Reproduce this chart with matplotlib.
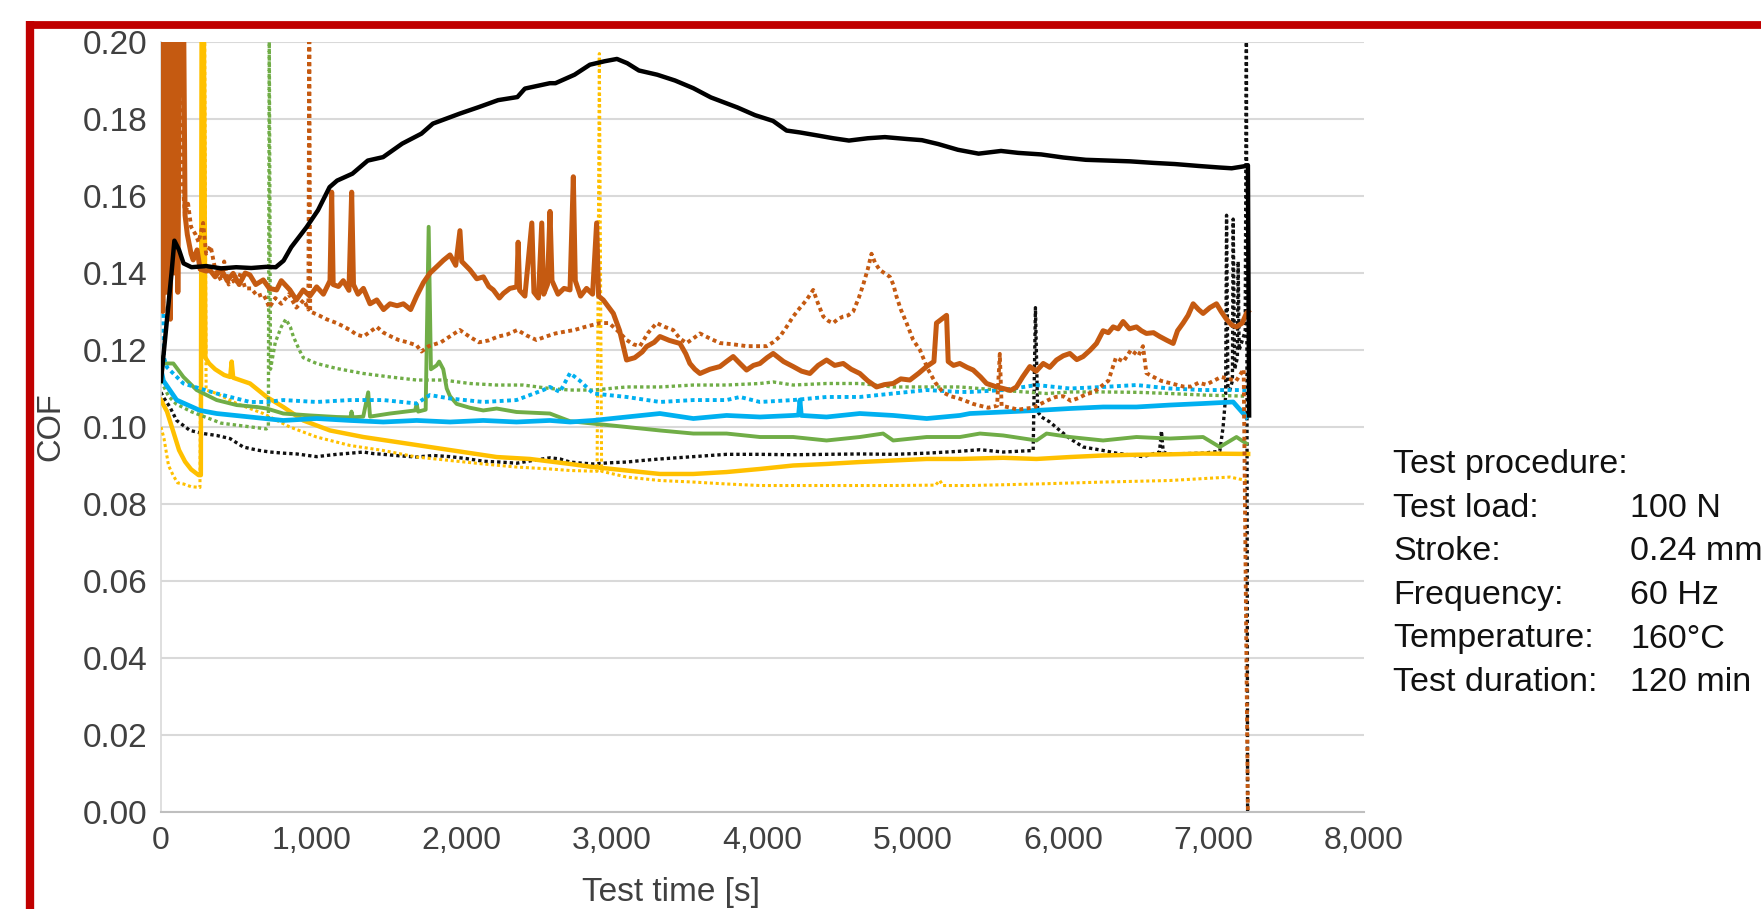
import numpy as np
import matplotlib
matplotlib.use("Agg")
import matplotlib.pyplot as plt
from matplotlib.lines import Line2D
from matplotlib.ticker import FuncFormatter

plt.rcParams['font.family'] = ['Liberation Sans', 'DejaVu Sans']

# (test time [s], COF)
black_solid = [(0, 0.112), (40, 0.128), (70, 0.140), (89, 0.1484), (120, 0.146), (150, 0.1425),
               (203, 0.1415), (300, 0.1418), (400, 0.1412), (500, 0.1415), (600, 0.1413), (700, 0.1416),
               (763, 0.1415), (815, 0.1432), (866, 0.1467), (968, 0.1519), (1044, 0.1563), (1121, 0.1623),
               (1171, 0.164), (1273, 0.1658), (1375, 0.1692), (1477, 0.1701), (1604, 0.1736), (1732, 0.1762),
               (1808, 0.1788), (1987, 0.1814), (2114, 0.1831), (2242, 0.1849), (2370, 0.1857), (2420, 0.1879),
               (2586, 0.1893), (2623, 0.1893), (2750, 0.1915), (2852, 0.1941), (2950, 0.195), (3032, 0.1956),
               (3100, 0.1945), (3178, 0.1926), (3300, 0.1915), (3418, 0.19), (3540, 0.188), (3657, 0.1856),
               (3833, 0.183), (3950, 0.181), (4070, 0.1795), (4160, 0.177), (4250, 0.1765), (4369, 0.1757),
               (4470, 0.175), (4575, 0.1744), (4700, 0.175), (4814, 0.1753), (4961, 0.1748), (5060, 0.1745),
               (5168, 0.1735), (5300, 0.172), (5437, 0.171), (5586, 0.1717), (5700, 0.1712), (5853, 0.1708),
               (6000, 0.17), (6150, 0.1694), (6300, 0.1692), (6445, 0.169), (6600, 0.1686), (6742, 0.1683),
               (6900, 0.1678), (7039, 0.1674), (7120, 0.1672), (7200, 0.1677), (7228, 0.168), (7236, 0.103)]

black_dotted = [(0, 0.109), (15, 0.1078), (59, 0.1052), (104, 0.1017), (193, 0.0991), (281, 0.0983),
                (370, 0.0978), (459, 0.097), (547, 0.0948), (640, 0.094), (725, 0.0935), (815, 0.0932),
                (902, 0.093), (1035, 0.0923), (1100, 0.0926), (1168, 0.0929), (1260, 0.0932), (1346, 0.0935),
                (1410, 0.0931), (1479, 0.0929), (1590, 0.0925), (1700, 0.0922), (1810, 0.0926), (1922, 0.0923),
                (2030, 0.0918), (2144, 0.0911), (2250, 0.0909), (2366, 0.0906), (2470, 0.0913), (2587, 0.092),
                (2653, 0.0917), (2720, 0.0909), (2800, 0.0906), (2874, 0.0904), (2980, 0.0907), (3096, 0.0909),
                (3200, 0.0913), (3318, 0.0917), (3430, 0.092), (3540, 0.0923), (3650, 0.0926), (3761, 0.0929),
                (3983, 0.0929), (4200, 0.0928), (4427, 0.0929), (4650, 0.093), (4870, 0.0929), (5092, 0.0932),
                (5313, 0.0937), (5446, 0.0941), (5601, 0.0935), (5800, 0.0939), (5815, 0.131), (5830, 0.104),
                (5855, 0.1026), (5911, 0.1013), (5977, 0.0991), (6044, 0.097), (6133, 0.0948), (6266, 0.0939),
                (6354, 0.0932), (6531, 0.0923), (6640, 0.0935), (6653, 0.099), (6665, 0.0935), (6708, 0.093),
                (6930, 0.0932), (7041, 0.0937), (7063, 0.100), (7080, 0.108), (7086, 0.155), (7095, 0.11),
                (7108, 0.1096), (7125, 0.112), (7130, 0.154), (7140, 0.115), (7158, 0.118), (7163, 0.143),
                (7170, 0.12), (7195, 0.123), (7210, 0.125), (7218, 0.205), (7226, 0.0)]

orange_solid = [(0, 0.21), (12, 0.13), (25, 0.21), (38, 0.135), (50, 0.21), (62, 0.128), (75, 0.21),
                (88, 0.14), (100, 0.21), (112, 0.135), (125, 0.21), (140, 0.21), (150, 0.21), (160, 0.155),
                (175, 0.15), (200, 0.145),
                (214, 0.1434), (240, 0.146), (260, 0.141), (300, 0.1405), (325, 0.1408), (360, 0.139),
                (400, 0.141), (440, 0.138), (480, 0.1399), (520, 0.137), (560, 0.14), (591, 0.1395),
                (630, 0.137), (680, 0.1382), (720, 0.136), (769, 0.1356), (800, 0.138), (857, 0.1356),
                (900, 0.133), (946, 0.1356), (990, 0.134), (1035, 0.1364), (1080, 0.1345), (1124, 0.138),
                (1135, 0.161), (1145, 0.137), (1180, 0.1365), (1212, 0.138), (1250, 0.1355), (1268, 0.161),
                (1280, 0.137), (1310, 0.1345), (1346, 0.136), (1390, 0.132), (1435, 0.133), (1480, 0.1305),
                (1523, 0.132), (1570, 0.1315), (1612, 0.132), (1660, 0.1305), (1700, 0.134), (1745, 0.1375),
                (1789, 0.140), (1830, 0.1415), (1878, 0.1433), (1922, 0.1447), (1960, 0.142), (1988, 0.151),
                (2000, 0.143), (2055, 0.1408), (2100, 0.1385), (2144, 0.139), (2180, 0.1365), (2210, 0.1356),
                (2250, 0.1335), (2277, 0.1347), (2320, 0.136), (2366, 0.1364), (2375, 0.148), (2385, 0.1355),
                (2420, 0.134), (2466, 0.153), (2480, 0.135), (2510, 0.1335), (2532, 0.153), (2545, 0.1345),
                (2570, 0.137), (2587, 0.156), (2600, 0.138), (2640, 0.1345), (2680, 0.136), (2720, 0.1356),
                (2742, 0.165), (2755, 0.138), (2790, 0.134), (2830, 0.136), (2870, 0.1345), (2897, 0.153),
                (2910, 0.134), (2941, 0.133), (2970, 0.1315), (3008, 0.1295), (3050, 0.125), (3096, 0.1174),
                (3150, 0.118), (3200, 0.1195), (3229, 0.1209), (3280, 0.122), (3318, 0.1235), (3380, 0.1225),
                (3451, 0.1217), (3490, 0.119), (3517, 0.1165), (3550, 0.115), (3584, 0.1139), (3650, 0.115),
                (3717, 0.1157), (3760, 0.117), (3805, 0.1183), (3850, 0.1165), (3894, 0.1148), (3940, 0.116),
                (3983, 0.1165), (4030, 0.118), (4071, 0.1191), (4140, 0.117), (4204, 0.1157), (4260, 0.1145),
                (4315, 0.1139), (4370, 0.116), (4426, 0.1174), (4480, 0.116), (4537, 0.1165), (4590, 0.115),
                (4647, 0.1139), (4700, 0.112), (4758, 0.1104), (4810, 0.111), (4869, 0.1113), (4920, 0.1125),
                (4980, 0.1122), (5040, 0.114), (5091, 0.1157), (5140, 0.117), (5157, 0.127), (5190, 0.128),
                (5224, 0.129), (5235, 0.117), (5270, 0.116), (5312, 0.1165), (5360, 0.1155), (5401, 0.1148),
                (5450, 0.113), (5490, 0.1113), (5550, 0.1105), (5601, 0.11), (5650, 0.1095), (5689, 0.1104),
                (5730, 0.113), (5778, 0.1157), (5820, 0.1145), (5867, 0.1165), (5910, 0.1155), (5955, 0.1174),
                (6000, 0.1185), (6044, 0.1191), (6090, 0.1175), (6132, 0.1183), (6180, 0.12), (6221, 0.1217),
                (6265, 0.125), (6300, 0.1245), (6332, 0.126), (6365, 0.1255), (6398, 0.1274), (6440, 0.1255),
                (6487, 0.126), (6520, 0.125), (6553, 0.1243), (6600, 0.1245), (6642, 0.1235), (6690, 0.1225),
                (6731, 0.1217), (6760, 0.125), (6797, 0.127), (6830, 0.129), (6864, 0.132), (6900, 0.1305),
                (6930, 0.1295), (6975, 0.131), (7019, 0.132), (7050, 0.13), (7085, 0.128), (7120, 0.1265),
                (7152, 0.126), (7190, 0.127), (7218, 0.1295), (7230, 0.13)]

orange_dotted = [(0, 0.21), (20, 0.15), (40, 0.21), (60, 0.145), (80, 0.21), (100, 0.15), (125, 0.21),
                 (140, 0.165), (160, 0.155), (180, 0.158), (200, 0.152),
                 (230, 0.15), (250, 0.148), (280, 0.153), (300, 0.145), (330, 0.147), (360, 0.141), (400, 0.138),
                 (420, 0.143), (450, 0.137), (480, 0.138), (500, 0.137), (530, 0.14), (560, 0.136), (600, 0.136),
                 (640, 0.134), (680, 0.1345), (700, 0.133), (720, 0.131), (760, 0.1335), (800, 0.132),
                 (850, 0.1345), (900, 0.131), (950, 0.133), (980, 0.1305), (986, 0.2), (992, 0.13), (1050, 0.129),
                 (1100, 0.128), (1168, 0.127), (1210, 0.1262), (1257, 0.1252), (1300, 0.124), (1346, 0.1235),
                 (1400, 0.125), (1435, 0.126), (1480, 0.1245), (1530, 0.1235), (1580, 0.1226), (1640, 0.122),
                 (1700, 0.1212), (1732, 0.1196), (1780, 0.121), (1861, 0.122), (1920, 0.1235), (1987, 0.1252),
                 (2050, 0.1235), (2114, 0.122), (2180, 0.1225), (2242, 0.1235), (2300, 0.124), (2370, 0.1252),
                 (2430, 0.1238), (2497, 0.1226), (2560, 0.1235), (2623, 0.1243), (2690, 0.1248), (2750, 0.1252),
                 (2820, 0.126), (2920, 0.127), (2980, 0.127), (3050, 0.1245), (3096, 0.1226), (3140, 0.1215),
                 (3185, 0.121), (3240, 0.1245), (3296, 0.127), (3350, 0.126), (3406, 0.1252), (3450, 0.123),
                 (3495, 0.1218), (3540, 0.123), (3584, 0.1243), (3650, 0.123), (3717, 0.1218), (3800, 0.1215),
                 (3894, 0.121), (3960, 0.121), (4028, 0.121), (4070, 0.122), (4116, 0.1235), (4160, 0.126),
                 (4204, 0.1287), (4250, 0.131), (4293, 0.133), (4337, 0.1356), (4370, 0.132), (4404, 0.1287),
                 (4440, 0.1275), (4470, 0.127), (4500, 0.128), (4537, 0.1287), (4570, 0.129), (4603, 0.130),
                 (4640, 0.1335), (4670, 0.137), (4700, 0.141), (4725, 0.145), (4750, 0.1425), (4780, 0.1408),
                 (4810, 0.14), (4847, 0.139), (4870, 0.137), (4891, 0.1339), (4920, 0.1305), (4958, 0.127),
                 (5002, 0.1226), (5047, 0.12), (5100, 0.115), (5150, 0.1115), (5200, 0.109), (5250, 0.108),
                 (5300, 0.1075), (5350, 0.1068), (5400, 0.106), (5450, 0.1055), (5500, 0.105), (5560, 0.1055),
                 (5578, 0.119), (5590, 0.1055), (5650, 0.105), (5700, 0.1045), (5750, 0.1048), (5800, 0.105),
                 (5850, 0.106), (5900, 0.107), (5950, 0.1078), (6000, 0.108), (6050, 0.1068), (6100, 0.1075),
                 (6150, 0.1085), (6200, 0.109), (6250, 0.1105), (6300, 0.112), (6350, 0.118), (6400, 0.117),
                 (6450, 0.12), (6500, 0.1185), (6530, 0.121), (6553, 0.114), (6600, 0.113), (6650, 0.112),
                 (6700, 0.1115), (6750, 0.111), (6800, 0.1105), (6850, 0.1105), (6900, 0.1115), (6950, 0.111),
                 (7000, 0.112), (7050, 0.113), (7100, 0.1125), (7150, 0.112), (7200, 0.115), (7228, 0.0)]

green_solid = [(0, 0.118), (16, 0.1165), (82, 0.1165), (149, 0.113), (237, 0.1096), (370, 0.107),
               (503, 0.1057), (636, 0.1052), (703, 0.1048), (813, 0.1035), (991, 0.103), (1168, 0.1026),
               (1260, 0.1025), (1267, 0.104), (1275, 0.1025), (1345, 0.1027), (1378, 0.109), (1390, 0.1027),
               (1522, 0.1035), (1690, 0.1043), (1700, 0.106), (1710, 0.104), (1760, 0.1045), (1780, 0.152),
               (1795, 0.115), (1833, 0.116), (1850, 0.117), (1877, 0.115), (1900, 0.11), (1922, 0.108),
               (1966, 0.106), (2054, 0.105), (2143, 0.1043), (2232, 0.1048), (2364, 0.1039), (2586, 0.1035),
               (2720, 0.1015), (3096, 0.10), (3318, 0.0991), (3540, 0.0983), (3761, 0.0983), (3983, 0.0974),
               (4204, 0.0974), (4426, 0.0965), (4647, 0.0974), (4802, 0.0983), (4869, 0.0965), (5092, 0.0974),
               (5313, 0.0974), (5446, 0.0983), (5601, 0.0978), (5822, 0.0965), (5889, 0.0983), (6044, 0.0974),
               (6265, 0.0965), (6487, 0.0974), (6708, 0.097), (6930, 0.0974), (7041, 0.0948), (7152, 0.0974),
               (7218, 0.0957)]

green_dotted = [(0, 0.112), (50, 0.108), (100, 0.106), (200, 0.104), (300, 0.1025), (400, 0.101),
                (500, 0.1005), (600, 0.10), (700, 0.0995), (714, 0.1), (720, 0.2), (728, 0.115), (760, 0.122),
                (800, 0.126), (830, 0.128), (860, 0.126), (880, 0.1235), (920, 0.12), (946, 0.118),
                (1035, 0.1165), (1168, 0.1152), (1345, 0.1139), (1522, 0.113), (1700, 0.1122), (1877, 0.1122),
                (2054, 0.1113), (2232, 0.1109), (2409, 0.1109), (2586, 0.11), (2720, 0.1096), (2875, 0.1096),
                (3096, 0.1104), (3318, 0.1104), (3540, 0.1109), (3761, 0.1109), (3983, 0.1113), (4071, 0.1117),
                (4204, 0.1109), (4426, 0.1113), (4647, 0.1113), (4869, 0.1104), (5092, 0.1104), (5313, 0.1104),
                (5600, 0.1095), (5889, 0.1087), (6044, 0.1091), (6265, 0.1091), (6500, 0.109), (6708, 0.1087),
                (6930, 0.1083), (7218, 0.108)]

blue_solid = [(0, 0.115), (16, 0.112), (104, 0.107), (259, 0.1043), (370, 0.1035), (592, 0.1026),
              (813, 0.1017), (1035, 0.1022), (1257, 0.1017), (1478, 0.1013), (1700, 0.1017), (1922, 0.1013),
              (2143, 0.1017), (2364, 0.1013), (2586, 0.1017), (2720, 0.1013), (2875, 0.1017), (3096, 0.1026),
              (3318, 0.1035), (3540, 0.1022), (3761, 0.103), (3983, 0.1026), (4204, 0.103), (4240, 0.1031),
              (4249, 0.107), (4258, 0.103), (4426, 0.1026), (4647, 0.1035), (4869, 0.103), (5092, 0.1022),
              (5313, 0.103), (5379, 0.1035), (5601, 0.1039), (5822, 0.1043), (6044, 0.1048), (6265, 0.1052),
              (6487, 0.1052), (6708, 0.1057), (6930, 0.1061), (7130, 0.1065), (7218, 0.1026)]

blue_dotted = [(0, 0.185), (10, 0.15), (20, 0.118), (40, 0.1155), (149, 0.1113), (370, 0.1087),
               (592, 0.1065), (703, 0.1065), (813, 0.107), (1035, 0.1065), (1257, 0.107), (1478, 0.107),
               (1700, 0.1061), (1788, 0.1083), (1922, 0.1074), (2143, 0.1065), (2364, 0.107), (2542, 0.1096),
               (2586, 0.1104), (2653, 0.1091), (2720, 0.114), (2786, 0.112), (2875, 0.1087), (3096, 0.1078),
               (3318, 0.1065), (3540, 0.107), (3761, 0.107), (3850, 0.1078), (3983, 0.1065), (4204, 0.107),
               (4426, 0.1078), (4647, 0.1078), (4869, 0.1087), (5092, 0.1096), (5313, 0.1091), (5379, 0.1091),
               (5601, 0.1096), (5822, 0.1109), (6044, 0.11), (6265, 0.1104), (6487, 0.1109), (6708, 0.11),
               (6930, 0.1096), (7218, 0.1096)]

yellow_solid = [(0, 0.107), (40, 0.104), (80, 0.099), (120, 0.094), (160, 0.091), (200, 0.089), (250, 0.0875),
                (265, 0.0875), (270, 0.205), (285, 0.205), (295, 0.118), (320, 0.1165), (360, 0.115),
                (420, 0.1135), (460, 0.113), (470, 0.117), (480, 0.1128), (592, 0.1113), (703, 0.1078),
                (813, 0.1052), (946, 0.1017), (1124, 0.0991), (1345, 0.0974), (1567, 0.0961), (1788, 0.0948),
                (2010, 0.0935), (2232, 0.0922), (2453, 0.0917), (2720, 0.0904), (2875, 0.0896), (3096, 0.0887),
                (3318, 0.0878), (3540, 0.0878), (3761, 0.0883), (3983, 0.0891), (4204, 0.09), (4426, 0.0904),
                (4647, 0.0909), (4869, 0.0913), (5092, 0.0917), (5313, 0.0917), (5600, 0.092), (5822, 0.0917),
                (6044, 0.0922), (6265, 0.0926), (6487, 0.0928), (6708, 0.0929), (6930, 0.0931), (7230, 0.093)]

yellow_dotted = [(0, 0.10), (20, 0.097), (50, 0.09), (80, 0.0875), (110, 0.0855), (150, 0.0852), (200, 0.0845),
                 (259, 0.0843), (275, 0.205), (290, 0.205), (300, 0.1096), (370, 0.1087), (503, 0.1061),
                 (680, 0.1035), (857, 0.10), (1035, 0.0974), (1257, 0.0952), (1478, 0.0939), (1700, 0.0922),
                 (1922, 0.0913), (2143, 0.0904), (2364, 0.0896), (2586, 0.0891), (2720, 0.0887), (2900, 0.0885),
                 (2915, 0.197), (2930, 0.0885), (3096, 0.087), (3318, 0.0861), (3540, 0.0857), (3761, 0.0852),
                 (3983, 0.0848), (4426, 0.0848), (4869, 0.0848), (5150, 0.0849), (5179, 0.0861), (5200, 0.0848),
                 (5379, 0.0848), (5822, 0.0852), (6265, 0.0857), (6708, 0.0861), (7108, 0.087), (7218, 0.0861)]

x_ticks = [0, 1000, 2000, 3000, 4000, 5000, 6000, 7000, 8000]
y_ticks = [0.00, 0.02, 0.04, 0.06, 0.08, 0.10, 0.12, 0.14, 0.16, 0.18, 0.20]

info_labels = ["Test procedure:", "Test load:", "Stroke:", "Frequency:", "Temperature:", "Test duration:"]
info_values = ["", "100 N", "0.24 mm", "60 Hz", "160\u00b0C", "120 min"]

ORANGE = '#C55A11'
GREEN = '#70AD47'
BLUE = '#00B0F0'
YELLOW = '#FFC000'
DOT = (0, (1, 0.9))

W, H = 1761, 909
fig = plt.figure(figsize=(W / 100, H / 100), dpi=100)
ax = fig.add_axes([161 / W, 1 - 812 / H, (1364 - 161) / W, (812 - 42) / H])


def draw(series, color, lw, ls='-', z=2):
    arr = np.array(series)
    ax.plot(arr[:, 0], arr[:, 1], color=color, lw=lw, ls=ls, zorder=z, solid_joinstyle='round')


draw(black_dotted, '#111111', 2.4, DOT, 2)
draw(yellow_dotted, YELLOW, 2.2, DOT, 3)
draw(yellow_solid, YELLOW, 3.2, '-', 3)
draw(green_dotted, GREEN, 2.4, DOT, 4)
draw(green_solid, GREEN, 2.8, '-', 4)
draw(blue_dotted, BLUE, 2.8, DOT, 5)
draw(blue_solid, BLUE, 3.4, '-', 5)
draw(orange_dotted, ORANGE, 2.8, DOT, 6)
draw(orange_solid, ORANGE, 3.6, '-', 6)
draw(black_solid, '#000000', 3.2, '-', 7)

ax.set_xlim(0, 8000)
ax.set_ylim(0, 0.2)
ax.set_xticks(x_ticks)
ax.set_yticks(y_ticks)
ax.xaxis.set_major_formatter(FuncFormatter(lambda v, p: f"{int(v):,}"))
ax.yaxis.set_major_formatter(FuncFormatter(lambda v, p: f"{v:.2f}"))
ax.tick_params(axis='both', length=0, labelsize=23, colors='#404040')
ax.tick_params(axis='y', labelsize=24, pad=9.5)
ax.tick_params(axis='x', pad=10)
ax.grid(axis='y', color='#d9d9d9', lw=1.5, zorder=0)
ax.set_axisbelow(True)
for s in ['top', 'right']:
    ax.spines[s].set_visible(False)
ax.spines['bottom'].set_color('#bfbfbf')
ax.spines['bottom'].set_linewidth(1.5)
ax.spines['left'].set_color('#d9d9d9')
ax.spines['left'].set_linewidth(1.2)

ax.set_xlabel("Test time [s]", fontsize=24, color='#404040')
ax.xaxis.set_label_coords((671 - 161) / 1203, -(893 - 812) / 770)
ax.xaxis.label.set_verticalalignment('center')
ax.set_ylabel("COF", fontsize=23.5, color='#404040')
ax.yaxis.set_label_coords((51 - 161) / 1203, 0.5)
ax.yaxis.label.set_verticalalignment('center')

# text block on the right
for i, (lab, val) in enumerate(zip(info_labels, info_values)):
    yc = 1 - (465 + i * 43.5) / H
    fig.text(1393 / W, yc, lab, fontsize=24.5, color='#111111', va='center', ha='left')
    if val:
        fig.text(1630 / W, yc, val, fontsize=24.5, color='#111111', va='center', ha='left')

# red frame (top and left edges, runs off the picture)
red = '#C00000'
fig.add_artist(Line2D([26 / W, 1.01], [1 - 24.5 / H, 1 - 24.5 / H], color=red, lw=5.6, transform=fig.transFigure,
                      solid_capstyle='butt'))
fig.add_artist(Line2D([30 / W, 30 / W], [1 - 20.5 / H, -0.01], color=red, lw=6, transform=fig.transFigure,
                      solid_capstyle='butt'))

fig.savefig("out.png", dpi=100)
